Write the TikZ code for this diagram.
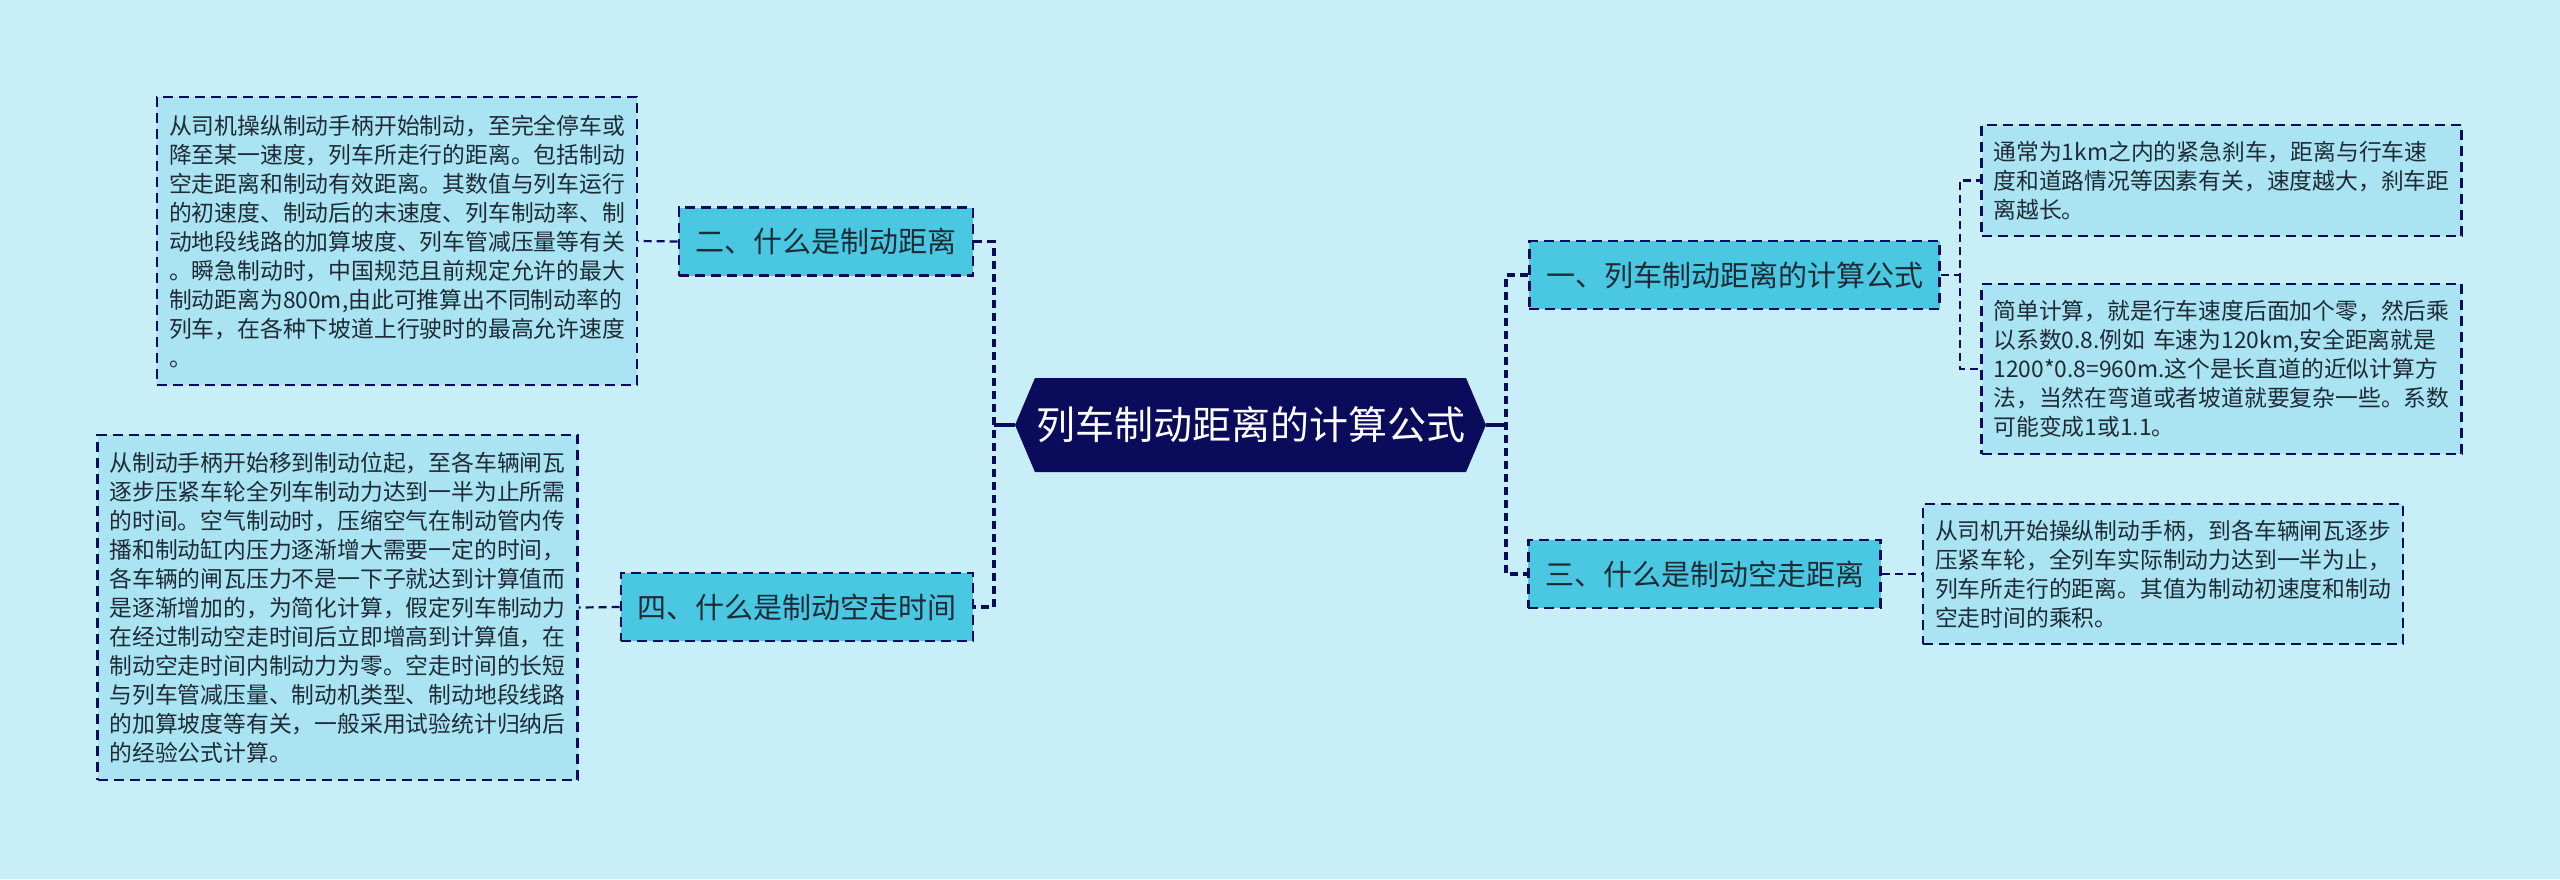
\documentclass[tikz,border=0pt]{standalone}
\usepackage{fontspec}
\setmainfont{Noto Sans CJK SC}
\usetikzlibrary{shapes.symbols}
\definecolor{bgcyan}{HTML}{C8EFF7}
\definecolor{navy}{HTML}{0B0B5C}
\definecolor{topicfill}{HTML}{4AC8E2}
\definecolor{notefill}{HTML}{AAE4F2}
\definecolor{inktext}{HTML}{1E2A36}

\begin{document}
\begin{tikzpicture}[x=0.5pt, y=-0.5pt,
  hub/.style={signal, signal to=west and east, signal pointer angle=134, fill=navy, text=white, minimum width=235.5pt, minimum height=47pt, inner sep=0pt, font=\fontsize{19.5}{22}\selectfont},
  topic/.style={draw=navy, line width=1.3pt, dash pattern=on 5pt off 3pt, fill=topicfill, text=inktext, minimum height=34pt, inner xsep=8.3pt, font=\fontsize{14.5}{17}\selectfont},
  note/.style={draw=navy, line width=1.2pt, dash pattern=on 5pt off 3pt, fill=notefill, text=inktext, align=left, text width=228pt, inner xsep=6pt, minimum height=#1, font=\fontsize{11.4}{14.5}\selectfont},
  note/.default=50pt,
  spine/.style={draw=navy, line width=1.6pt, dash pattern=on 4pt off 2.5pt},
  link/.style={draw=navy, line width=1.1pt, dash pattern=on 4pt off 2.5pt},
  stem/.style={draw=navy, line width=1.6pt}]
\fill[bgcyan] (0,0) rectangle (2560,879);
\useasboundingbox (0,0) rectangle (2560,879);
\node[hub] (hub) at (1250.5,425) {列车制动距离的计算公式};
\node[topic] (n1) at (1734.5,275) {一、列车制动距离的计算公式};
\node[topic] (n3) at (1704.5,574) {三、什么是制动空走距离};
\node[topic] (n2) at (826,241.5) {二、什么是制动距离};
\node[topic] (n4) at (797,607) {四、什么是制动空走时间};
\node[note=144pt] (t2) at (397,241) {从司机操纵制动手柄开始制动，至完全停车或\\降至某一速度，列车所走行的距离。包括制动\\空走距离和制动有效距离。其数值与列车运行\\的初速度、制动后的末速度、列车制动率、制\\动地段线路的加算坡度、列车管减压量等有关\\。瞬急制动时，中国规范且前规定允许的最大\\制动距离为800m,由此可推算出不同制动率的\\列车，在各种下坡道上行驶时的最高允许速度\\。};
\node[note=172.5pt] (t4) at (337.5,607.5) {从制动手柄开始移到制动位起，至各车辆闸瓦\\逐步压紧车轮全列车制动力达到一半为止所需\\的时间。空气制动时，压缩空气在制动管内传\\播和制动缸内压力逐渐增大需要一定的时间，\\各车辆的闸瓦压力不是一下子就达到计算值而\\是逐渐增加的，为简化计算，假定列车制动力\\在经过制动空走时间后立即增高到计算值，在\\制动空走时间内制动力为零。空走时间的长短\\与列车管减压量、制动机类型、制动地段线路\\的加算坡度等有关，一般采用试验统计归纳后\\的经验公式计算。};
\node[note=55.5pt] (t1a) at (2221.5,180.5) {通常为1km之内的紧急刹车，距离与行车速\\度和道路情况等因素有关，速度越大，刹车距\\离越长。};
\node[note=85pt] (t1b) at (2221.5,369) {简单计算，就是行车速度后面加个零，然后乘\\以系数0.8.例如 车速为120km,安全距离就是\\1200*0.8=960m.这个是长直道的近似计算方\\法，当然在弯道或者坡道就要复杂一些。系数\\可能变成1或1.1。};
\node[note=70pt] (t3) at (2163,574) {从司机开始操纵制动手柄，到各车辆闸瓦逐步\\压紧车轮，全列车实际制动力达到一半为止，\\列车所走行的距离。其值为制动初速度和制动\\空走时间的乘积。};
\coordinate (lspine) at (994,425);
\coordinate (rspine) at (1506,425);
\coordinate (rfork) at (1960,275);
\draw[spine] (n2.east) -| (lspine) |- (n4.east);
\draw[spine] (n1.west) -| (rspine) |- (n3.west);
\draw[stem] (lspine) -- (hub.west);
\draw[stem] (hub.east) -- (rspine);
\draw[link] (n2.west) -- (t2.east);
\draw[link] (n4.west) -- (t4.east);
\draw[link] (n3.east) -- (t3.west);
\draw[link] (n1.east) -- (rfork) |- (t1a.west);
\draw[link] (rfork) |- (t1b.west);
\end{tikzpicture}
\end{document}
